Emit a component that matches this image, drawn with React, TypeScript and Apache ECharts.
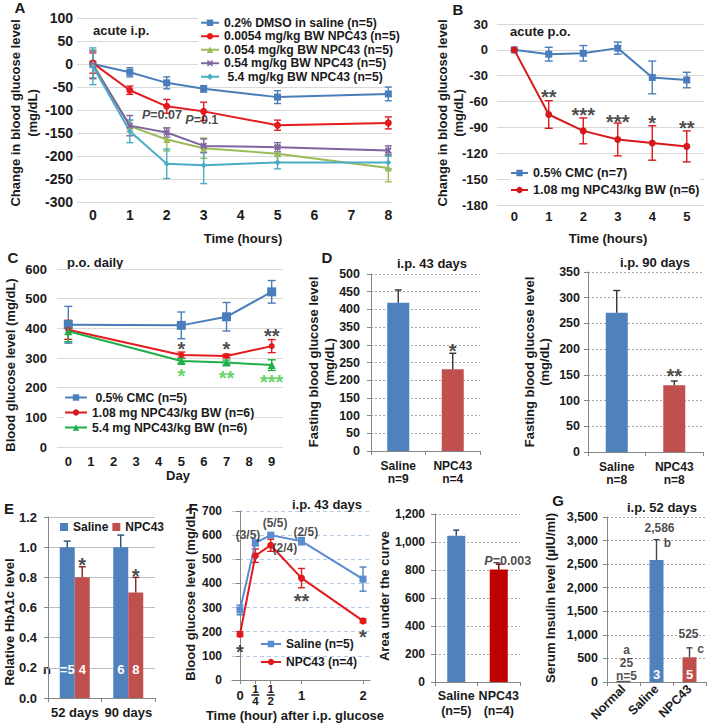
import React, { useEffect, useRef } from 'react';
import * as echarts from 'echarts';

const FONT = '"Liberation Sans", Arial, Helvetica, sans-serif';
const INK = '#1a1a1a';
const BLUE = '#4f81bd';
const RED_BAR = '#c0504d';

// ---------- Panel A: acute i.p. ----------
const aTicks = [0, 1, 2, 3, 4, 5, 6, 7, 8];
const aHours = [0, 1, 2, 3, 5, 8];
const aNames = [
  '0.2% DMSO in saline (n=5)',
  '0.0054 mg/kg BW NPC43 (n=5)',
  '0.054 mg/kg BW NPC43 (n=5)',
  '0.54 mg/kg BW NPC43 (n=5)',
  ' 5.4 mg/kg BW NPC43 (n=5)',
];
const aVehicle = [0, -18, -41, -54, -72, -65];
const aVehicleErr = [30, 10, 13, 7, 14, 15];
const aDose1 = [2, -57, -92, -103, -133, -128];
const aDose1Err = [22, 9, 15, 20, 11, 13];
const aDose2 = [0, -135, -164, -183, -195, -226];
const aDose2Err = [30, 12, 25, 22, 18, 30];
const aDose3 = [-2, -134, -149, -178, -181, -188];
const aDose3Err = [30, 22, 10, 15, 10, 10];
const aDose4 = [-5, -146, -217, -220, -214, -214];
const aDose4Err = [40, 25, 32, 40, 14, 14];
const aPX = [1.87, 2.95];
const aPY = [-110, -121];
const aPText = ['0.07', '0.1'];

// ---------- Panel B: acute p.o. ----------
const bHours = ['0', '1', '2', '3', '4', '5'];
const bNames = ['0.5% CMC (n=7)', '1.08 mg NPC43/kg BW (n=6)'];
const bCmc = [0, -5, -4, 2, -32, -35];
const bCmcErr = [0, 8, 9, 7, 19, 9];
const bNpc = [0, -75, -94, -104, -108, -112];
const bNpcErr = [0, 16, 15, 19, 20, 18];
const bStarHour = [1, 2, 3, 4, 5];
const bStarY = [-49, -70, -79, -80, -86];
const bStarText = ['**', '***', '***', '*', '**'];

// ---------- Panel C: p.o. daily ----------
const cDays = ['0', '1', '2', '3', '4', '5', '6', '7', '8', '9'];
const cNames = [' 0.5% CMC (n=5)', '1.08 mg NPC43/kg BW (n=6)', '5.4 mg NPC43/kg BW (n=6)'];
const cMeasureDays = [0, 5, 7, 9];
const cCmc = [412, 410, 439, 523];
const cCmcErr = [62, 45, 48, 38];
const cLow = [395, 310, 307, 340];
const cLowErr = [32, 10, 6, 22];
const cHigh = [390, 290, 285, 276];
const cHighErr = [35, 8, 8, 18];
const cStarDays = [5, 7, 9];
const cLowStarY = [344, 344, 388];
const cLowStarText = ['*', '*', '**'];
const cHighStarY = [253, 249, 233];
const cHighStarText = ['*', '**', '***'];

// ---------- Panel D: fasting glucose ----------
const dCats43 = ['Saline\nn=9', 'NPC43\nn=4'];
const d43 = [419, 231];
const d43Err = [36, 45];
const d43StarY = 294;
const dCats90 = ['Saline\nn=8', 'NPC43\nn=8'];
const d90 = [271, 130];
const d90Err = [43, 8];
const d90StarY = 156;

// ---------- Panel E: HbA1c ----------
const eCats = ['52 days', '90 days'];
const eSaline = [1.0, 1.0];
const eSalineErr = [0.04, 0.08];
const eNpc = [0.8, 0.7];
const eNpcErr = [0.07, 0.1];
const eSalineN = ['=5', '6'];
const eNpcN = ['4', '8'];
const eStarY = [0.91, 0.84];

// ---------- Panel F: IPGTT ----------
const fHours = [0, 0.25, 0.5, 1, 2];
const fLabels = ['0', '1/4', '1/2', '1', '2'];
const fNames = ['Saline (n=5)', 'NPC43 (n=4)'];
const fSaline = [290, 568, 600, 575, 418];
const fSalineErr = [20, 12, 8, 15, 50];
const fNpc = [190, 515, 558, 422, 245];
const fNpcErr = [10, 28, 25, 40, 8];
const fCountX = [0.13, 0.57, 1.07, 0.73];
const fCountY = [602, 651, 614, 548];
const fCountText = ['(3/5)', '(5/5)', '(2/5)', '(2/4)'];
const fStarX = [0, 1, 2];
const fStarY = [133, 344, 195];
const fStarText = ['*', '**', '*'];
const fAucCats = ['Saline\n(n=5)', 'NPC43\n(n=4)'];
const fAuc = [1045, 804];
const fAucErr = [40, 38];
const fAucPY = 864;

// ---------- Panel G: insulin ----------
const gCats = ['Normal', 'Saline', 'NPC43'];
const gVals = [25, 2586, 525];
const gErr = [10, 434, 200];
const gN = ['', '3', '5'];
const gAnnCat = [1, 1, 2, 2, 0];
const gAnnY = [3260, 2941, 1010, 690, 396];
const gAnnText = ['2,586', 'b', '525', 'c', 'a\n25\nn=5'];

// ---------------- helpers ----------------
const zip = (xs: any[], ys: number[]) => xs.map((x, i) => [x, ys[i]]);
const zip3 = (xs: any[], ys: number[], es: number[]) => xs.map((x, i) => [x, ys[i], es[i]]);

function errorSeries(gi: number, data: any[], color: string, o: { cap: number; up?: boolean; off?: number; lw?: number }) {
  return {
    type: 'custom',
    xAxisIndex: gi,
    yAxisIndex: gi,
    silent: true,
    z: 3,
    encode: { x: 0, y: 1 },
    data,
    renderItem: (_p: any, api: any) => {
      const x = api.value(0);
      const y = api.value(1);
      const e = api.value(2);
      if (!e) return null;
      const hi = api.coord([x, y + e]);
      const lo = api.coord([x, o.up ? y : y - e]);
      const px = hi[0] + (o.off || 0);
      const st = { stroke: color, lineWidth: o.lw || 1.4 };
      const kids: any[] = [
        { type: 'line', shape: { x1: px, y1: hi[1], x2: px, y2: lo[1] }, style: st },
        { type: 'line', shape: { x1: px - o.cap, y1: hi[1], x2: px + o.cap, y2: hi[1] }, style: st },
      ];
      if (!o.up) kids.push({ type: 'line', shape: { x1: px - o.cap, y1: lo[1], x2: px + o.cap, y2: lo[1] }, style: st });
      return { type: 'group', children: kids };
    },
  };
}

function lineSeries(gi: number, name: string, data: any[], color: string, symbol: string, size: number) {
  return {
    type: 'line',
    name,
    xAxisIndex: gi,
    yAxisIndex: gi,
    data,
    symbol,
    symbolSize: size,
    showAllSymbol: true,
    lineStyle: { color, width: 2 },
    itemStyle: { color },
    z: 4,
  };
}

type Ann = { x: any; y: number; t: string; color?: string; size?: number; dx?: number; dy?: number; lh?: number };
function annSeries(gi: number, items: Ann[]) {
  return {
    type: 'scatter',
    xAxisIndex: gi,
    yAxisIndex: gi,
    silent: true,
    z: 10,
    symbolSize: 1,
    itemStyle: { color: 'rgba(0,0,0,0)' },
    data: items.map((a) => ({
      name: a.t,
      value: [a.x, a.y],
      label: {
        color: a.color || INK,
        fontSize: a.size || 12.5,
        offset: [a.dx || 0, a.dy || 0],
        ...(a.lh ? { lineHeight: a.lh } : {}),
      },
    })),
    label: {
      show: true,
      position: 'inside',
      formatter: (p: any) => p.name,
      fontFamily: FONT,
      fontWeight: 'bold',
      fontSize: 12.5,
      color: INK,
      align: 'center',
      verticalAlign: 'middle',
      rich: { i: { fontStyle: 'italic', fontWeight: 'bold', fontFamily: FONT, fontSize: 12.5, color: INK } },
    },
  };
}
const star = (x: any, y: number, t: string, color = INK, dx = 0): Ann => ({ x, y, t, color, size: 20, dy: 4.5, dx });

const tick = (size: number, margin: number, extra: any = {}) => ({
  fontFamily: FONT,
  fontWeight: 'bold',
  fontSize: size,
  color: INK,
  margin,
  ...extra,
});
const hidden = { show: false };
const solidGrid = { show: true, lineStyle: { color: '#d9d9d9', width: 1 } };
const dotGrid = { show: true, lineStyle: { color: '#a6a6a6', width: 1, type: [2, 2] } };
const axLine = { show: true, lineStyle: { color: '#868686', width: 1 } };
const axTick = { show: true, length: 4, lineStyle: { color: '#868686' } };

const T = (text: string, x: number, y: number, o: any = {}) => ({
  type: 'text',
  x,
  y,
  silent: true,
  style: {
    text,
    fontFamily: FONT,
    fontWeight: 'bold',
    fontSize: 13,
    fill: INK,
    align: 'center',
    verticalAlign: 'middle',
    ...o,
  },
});
const VT = (text: string, x: number, y: number, o: any = {}) => ({ ...T(text, x, y, o), rotation: Math.PI / 2 });

const legendText = (size: number, lh: number) => ({ fontFamily: FONT, fontWeight: 'bold', fontSize: size, color: INK, lineHeight: lh });

function buildOption() {
  const grid = [
    { left: 77, top: 18, width: 315, height: 184 },
    { left: 497, top: 24, width: 207, height: 181 },
    { left: 57, top: 269, width: 226, height: 178 },
    { left: 371, top: 274, width: 109, height: 177 },
    { left: 588, top: 272, width: 115, height: 180 },
    { left: 48, top: 517, width: 107, height: 181 },
    { left: 232, top: 511, width: 138, height: 169 },
    { left: 435, top: 514, width: 85, height: 168 },
    { left: 607, top: 517, width: 99, height: 165 },
  ];

  const fracRich = {
    n: { fontFamily: FONT, fontWeight: 'bold', fontSize: 11.5, lineHeight: 10, color: INK },
    b: { width: 8, height: 1.5, lineHeight: 2, fontSize: 1, backgroundColor: INK },
    m: { fontFamily: FONT, fontWeight: 'bold', fontSize: 13, lineHeight: 13, color: INK },
  };

  const xAxis: any[] = [
    { gridIndex: 0, type: 'value', min: -0.43, max: 8.1, axisLine: hidden, axisTick: hidden, splitLine: hidden, axisLabel: { ...tick(14, 6), customValues: aTicks } },
    { gridIndex: 1, type: 'category', data: bHours, axisLine: hidden, axisTick: hidden, axisLabel: tick(13, 5, { interval: 0 }) },
    { gridIndex: 2, type: 'category', data: cDays, axisLine: hidden, axisTick: hidden, axisLabel: tick(13, 8, { interval: 0 }) },
    { gridIndex: 3, type: 'category', data: dCats43, axisLine: axLine, axisTick: axTick, axisLabel: tick(12, 8, { lineHeight: 13.5, interval: 0 }) },
    { gridIndex: 4, type: 'category', data: dCats90, axisLine: axLine, axisTick: axTick, axisLabel: tick(12, 8, { lineHeight: 13.5, interval: 0 }) },
    { gridIndex: 5, type: 'category', data: eCats, axisLine: axLine, axisTick: axTick, axisLabel: tick(13, 8, { interval: 0 }) },
    {
      gridIndex: 6,
      type: 'value',
      min: -0.13,
      max: 2.114,
      axisLine: axLine,
      axisTick: { ...axTick, customValues: fHours },
      splitLine: hidden,
      axisLabel: {
        ...tick(13, 15),
        customValues: fHours,
        verticalAlign: 'middle',
        formatter: (v: number) => {
          const i = fHours.indexOf(v);
          const s = i >= 0 ? fLabels[i] : '';
          if (s.indexOf('/') >= 0) {
            const [n, d] = s.split('/');
            return `{n|${n}}\n{b| }\n{n|${d}}`;
          }
          return `{m|${s}}`;
        },
        rich: fracRich,
      },
    },
    { gridIndex: 7, type: 'category', data: fAucCats, axisLine: axLine, axisTick: axTick, axisLabel: tick(12.5, 6, { lineHeight: 15, interval: 0 }) },
    { gridIndex: 8, type: 'category', data: gCats, axisLine: axLine, axisTick: axTick, axisLabel: tick(12.5, 5, { rotate: 45, interval: 0 }) },
  ];

  const yAxis: any[] = [
    { gridIndex: 0, type: 'value', min: -300, max: 100, interval: 50, axisLine: hidden, axisTick: hidden, splitLine: solidGrid, axisLabel: tick(14, 4) },
    { gridIndex: 1, type: 'value', min: -180, max: 30, interval: 30, axisLine: hidden, axisTick: hidden, splitLine: solidGrid, axisLabel: tick(13, 9) },
    { gridIndex: 2, type: 'value', min: 0, max: 600, interval: 100, axisLine: hidden, axisTick: hidden, splitLine: solidGrid, axisLabel: tick(13, 10) },
    { gridIndex: 3, type: 'value', min: 0, max: 500, interval: 50, axisLine: axLine, axisTick: axTick, splitLine: dotGrid, axisLabel: tick(12.5, 11) },
    { gridIndex: 4, type: 'value', min: 0, max: 350, interval: 50, axisLine: axLine, axisTick: axTick, splitLine: dotGrid, axisLabel: tick(12.5, 8) },
    {
      gridIndex: 5, type: 'value', min: 0, max: 1.2, interval: 0.2, axisLine: axLine, axisTick: axTick,
      splitLine: { show: true, lineStyle: { color: '#bfbfbf' } },
      axisLabel: tick(13, 11, { formatter: (v: number) => v.toFixed(1) }),
    },
    {
      gridIndex: 6, type: 'value', min: 0, max: 700, interval: 100, axisLine: axLine, axisTick: axTick,
      splitLine: { show: true, lineStyle: { color: '#b9cde5', type: [4, 3] } },
      axisLabel: tick(12, 10),
    },
    { gridIndex: 7, type: 'value', min: 0, max: 1200, interval: 200, axisLine: axLine, axisTick: axTick, splitLine: dotGrid, axisLabel: tick(12, 10) },
    {
      gridIndex: 8, type: 'value', min: 0, max: 3500, interval: 500, axisLine: axLine, axisTick: axTick, splitLine: dotGrid,
      axisLabel: tick(12.5, 9, { formatter: (v: number) => v.toLocaleString('en-US') }),
    },
  ];

  const A_COL = ['#4a7ebb', '#e41a1c', '#9bbb59', '#8064a2', '#4bacc6'];
  const xMark = 'path://M2,0L5,3L8,0L10,2L7,5L10,8L8,10L5,7L2,10L0,8L3,5L0,2Z';
  const aSets = [
    [aVehicle, aVehicleErr, 'rect', 7],
    [aDose1, aDose1Err, 'circle', 7],
    [aDose2, aDose2Err, 'triangle', 7],
    [aDose3, aDose3Err, xMark, 7],
    [aDose4, aDose4Err, 'diamond', 6],
  ] as any[];

  const series: any[] = [];
  aSets.forEach((s, i) => {
    series.push(errorSeries(0, zip3(aHours, s[0], s[1]), A_COL[i], { cap: 3.5 }));
  });
  aSets.forEach((s, i) => {
    series.push(lineSeries(0, aNames[i], zip(aHours, s[0]), A_COL[i], s[2], s[3]));
  });
  series.push(annSeries(0, aPX.map((x, i) => ({ x, y: aPY[i], t: `{i|P}=${aPText[i]}` }))));

  // B
  const bIdx = bHours.map((_, i) => i);
  series.push(errorSeries(1, zip3(bIdx, bCmc, bCmcErr), '#4a7ebb', { cap: 4 }));
  series.push(errorSeries(1, zip3(bIdx, bNpc, bNpcErr), '#d7191c', { cap: 4 }));
  series.push(lineSeries(1, bNames[0], zip(bIdx, bCmc), '#4a7ebb', 'rect', 7));
  series.push(lineSeries(1, bNames[1], zip(bIdx, bNpc), '#d7191c', 'circle', 7));
  series.push(annSeries(1, bStarHour.map((x, i) => star(x, bStarY[i], bStarText[i]))));

  // C
  series.push(errorSeries(2, zip3(cMeasureDays, cCmc, cCmcErr), '#4a7ebb', { cap: 4 }));
  series.push(errorSeries(2, zip3(cMeasureDays, cLow, cLowErr), '#e41a1c', { cap: 4 }));
  series.push(errorSeries(2, zip3(cMeasureDays, cHigh, cHighErr), '#1fae48', { cap: 4 }));
  series.push(lineSeries(2, cNames[0], zip(cMeasureDays, cCmc), '#4a7ebb', 'rect', 9));
  series.push(lineSeries(2, cNames[1], zip(cMeasureDays, cLow), '#e41a1c', 'circle', 6));
  series.push(lineSeries(2, cNames[2], zip(cMeasureDays, cHigh), '#1fae48', 'triangle', 8));
  series.push(
    annSeries(2, [
      ...cStarDays.map((d, i) => star(d, cLowStarY[i], cLowStarText[i])),
      ...cStarDays.map((d, i) => star(d, cHighStarY[i], cHighStarText[i], '#3cc83c')),
    ])
  );

  // D
  const barCol = (i: number) => ({ color: i === 0 ? BLUE : RED_BAR });
  series.push({ type: 'bar', xAxisIndex: 3, yAxisIndex: 3, barWidth: 22, data: d43.map((v, i) => ({ value: v, itemStyle: barCol(i) })) });
  series.push(errorSeries(3, zip3([0, 1], d43, d43Err), '#333', { cap: 3.5, up: true }));
  series.push(annSeries(3, [star(1, d43StarY, '*')]));
  series.push({ type: 'bar', xAxisIndex: 4, yAxisIndex: 4, barWidth: 22, data: d90.map((v, i) => ({ value: v, itemStyle: barCol(i) })) });
  series.push(errorSeries(4, zip3([0, 1], d90, d90Err), '#333', { cap: 3.5, up: true }));
  series.push(annSeries(4, [star(1, d90StarY, '**')]));

  // E
  const eLabel = (arr: string[]) => ({
    show: true,
    position: 'insideBottom',
    distance: 22,
    formatter: (p: any) => arr[p.dataIndex],
    fontFamily: FONT,
    fontWeight: 'bold',
    fontSize: 13,
    color: '#fff',
  });
  series.push({ type: 'bar', name: 'Saline', xAxisIndex: 5, yAxisIndex: 5, barWidth: 15, barGap: '0%', data: eSaline, itemStyle: { color: BLUE }, label: eLabel(eSalineN) });
  series.push({ type: 'bar', name: 'NPC43', xAxisIndex: 5, yAxisIndex: 5, barWidth: 15, barGap: '0%', data: eNpc, itemStyle: { color: RED_BAR }, label: eLabel(eNpcN) });
  series.push(errorSeries(5, zip3([0, 1], eSaline, eSalineErr), '#2a4d7a', { cap: 3.5, up: true, off: -7.5 }));
  series.push(errorSeries(5, zip3([0, 1], eNpc, eNpcErr), '#7a2523', { cap: 3.5, up: true, off: 7.5 }));
  series.push(annSeries(5, eStarY.map((y, i) => star(i, y, '*', INK, 7.5))));

  // F left
  series.push(errorSeries(6, zip3(fHours, fSaline, fSalineErr), '#4f81bd', { cap: 3.5 }));
  series.push(errorSeries(6, zip3(fHours, fNpc, fNpcErr), '#e31a1c', { cap: 3.5 }));
  series.push(lineSeries(6, fNames[0], zip(fHours, fSaline), '#5b8bd0', 'rect', 7));
  series.push(lineSeries(6, fNames[1], zip(fHours, fNpc), '#e31a1c', 'circle', 7));
  series.push(
    annSeries(6, [
      ...fCountX.map((x, i) => ({ x, y: fCountY[i], t: fCountText[i], size: 12 })),
      ...fStarX.map((x, i) => star(x, fStarY[i], fStarText[i])),
    ])
  );

  // F right (AUC)
  series.push({
    type: 'bar', xAxisIndex: 7, yAxisIndex: 7, barWidth: 18,
    data: fAuc.map((v, i) => ({ value: v, itemStyle: { color: i === 0 ? BLUE : '#c00000' } })),
  });
  series.push(errorSeries(7, zip3([0], [fAuc[0]], [fAucErr[0]]), '#1f3f6e', { cap: 3, up: true }));
  series.push(errorSeries(7, zip3([1], [fAuc[1]], [fAucErr[1]]), '#6e0000', { cap: 3, up: true }));
  series.push(annSeries(7, [{ x: 1, y: fAucPY, t: '{i|P}=0.003', size: 12.5, dx: 9 }]));

  // G
  series.push({
    type: 'bar', xAxisIndex: 8, yAxisIndex: 8, barWidth: 14,
    data: gVals.map((v, i) => ({ value: v, itemStyle: { color: i === 0 ? '#555' : i === 1 ? BLUE : RED_BAR } })),
    label: {
      show: true, position: 'insideBottom', distance: 1, formatter: (p: any) => gN[p.dataIndex],
      fontFamily: FONT, fontWeight: 'bold', fontSize: 13, color: '#fff',
    },
  });
  series.push(errorSeries(8, zip3([1, 2], gVals.slice(1), gErr.slice(1)), '#444', { cap: 3, up: true }));
  const gDx = [3, 11, -1, 11, 3];
  series.push(annSeries(8, gAnnCat.map((c, i) => ({ x: c, y: gAnnY[i], t: gAnnText[i], size: 12, dx: gDx[i], lh: 13 }))));

  const legend: any[] = [
    {
      orient: 'vertical', left: 198, top: 16, itemGap: 0, itemWidth: 18, itemHeight: 8, padding: [0, 2],
      backgroundColor: '#fff', data: aNames, textStyle: legendText(12.2, 13.5),
    },
    {
      orient: 'vertical', left: 510, top: 166, itemGap: 3, itemWidth: 17, itemHeight: 8, padding: 0,
      backgroundColor: '#fff', data: bNames, textStyle: legendText(12.5, 14),
    },
    {
      orient: 'vertical', left: 64, top: 390, itemGap: 0, itemWidth: 22, itemHeight: 8, padding: 0,
      backgroundColor: '#fff', data: cNames, textStyle: legendText(12.2, 15),
    },
    {
      orient: 'horizontal', left: 60, top: 520, itemGap: 4, itemWidth: 8, itemHeight: 8, padding: 0, icon: 'rect',
      data: ['Saline', 'NPC43'], textStyle: legendText(12, 14),
    },
    {
      orient: 'vertical', left: 260, top: 637, itemGap: 4, itemWidth: 20, itemHeight: 8, padding: 0,
      data: fNames, textStyle: legendText(12, 14),
    },
  ];

  const graphic: any[] = [
    // panel letters
    T('A', 20, 7, { fontSize: 15 }),
    T('B', 458, 9, { fontSize: 15 }),
    T('C', 13, 257, { fontSize: 15 }),
    T('D', 327, 257, { fontSize: 15 }),
    T('E', 9, 508, { fontSize: 15 }),
    T('F', 193, 508, { fontSize: 15 }),
    T('G', 558, 500, { fontSize: 15 }),
    // panel titles
    T('acute i.p.', 93, 30, { align: 'left' }),
    T('acute p.o.', 510, 31, { align: 'left' }),
    T('p.o. daily', 67, 262, { align: 'left' }),
    T('i.p. 43 days', 432, 263),
    T('i.p. 90 days', 655, 262),
    T('i.p. 43 days', 327, 504),
    T('i.p. 52 days', 662, 507),
    // axis titles
    VT('Change in blood glucose level\n(mg/dL)', 24, 113, { lineHeight: 17 }),
    VT('Change in blood glucose level\n(mg/dL)', 450, 113, { lineHeight: 16 }),
    T('Time (hours)', 243, 238),
    T('Time (hours)', 608, 238),
    VT('Blood glucose level (mg/dL)', 10, 365),
    T('Day', 178, 475),
    VT('Fasting blood glucose level\n(mg/dL)', 321, 362, { lineHeight: 16 }),
    VT('Fasting blood glucose level\n(mg/dL)', 537, 362, { lineHeight: 15 }),
    VT('Relative HbA1c level', 9, 622),
    T('n', 47, 669),
    VT('Blood glucose level (mg/dL)', 190, 594),
    T('Time (hour) after i.p. glucose', 295, 715),
    VT('Area under the curve', 384, 596),
    VT('Serum Insulin level (\u00b5IU/ml)', 550, 598),
  ];

  return {
    animation: false,
    backgroundColor: '#fff',
    grid,
    xAxis,
    yAxis,
    legend,
    series,
    graphic,
  };
}

export default function App() {
  const ref = useRef<HTMLDivElement>(null);
  useEffect(() => {
    if (!ref.current) return;
    const chart = echarts.init(ref.current, null, { renderer: 'svg' });
    chart.setOption(buildOption() as any);
    return () => chart.dispose();
  }, []);
  return (
    <div
      ref={ref}
      style={{ position: 'absolute', left: 0, top: 0, width: 708, height: 727, background: '#fff' }}
    />
  );
}
